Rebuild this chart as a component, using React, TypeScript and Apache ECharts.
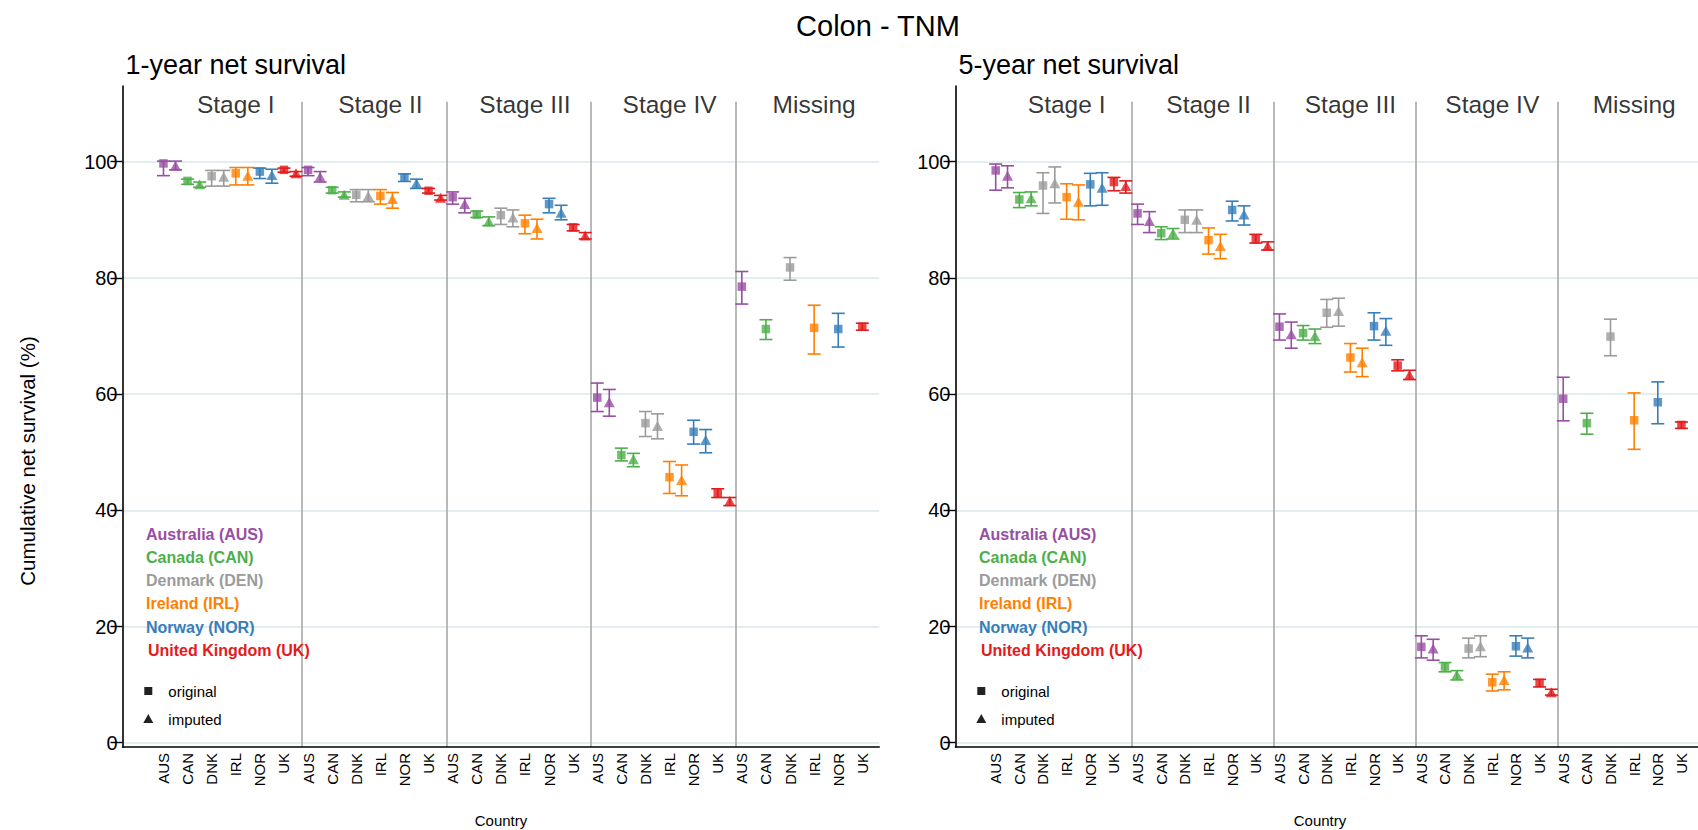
import React, { useEffect, useRef } from 'react';
import * as echarts from 'echarts';

const FONT = '"Liberation Sans", Arial, Helvetica, sans-serif';

const countries = ['AUS', 'CAN', 'DNK', 'IRL', 'NOR', 'UK'];
const countryNames = ['Australia (AUS)', 'Canada (CAN)', 'Denmark (DEN)', 'Ireland (IRL)', 'Norway (NOR)', 'United Kingdom (UK)'];
const countryColors = ['#984ea3', '#4daf4a', '#9b9b9b', '#ff7f00', '#377eb8', '#e41a1c'];
const stages = ['Stage I', 'Stage II', 'Stage III', 'Stage IV', 'Missing'];
const yTicks = [0, 20, 40, 60, 80, 100];
const markerLabels = ['original', 'imputed'];
const panelTitles = ['1-year net survival', '5-year net survival'];
const chartTitle = 'Colon - TNM';
const yAxisTitle = 'Cumulative net survival (%)';
const xAxisTitle = 'Country';

// rows = countries (AUS, CAN, DNK, IRL, NOR, UK); columns = Stage I, II, III, IV, Missing
const oneYearOrigEst = [
  [99.7, 98.6, 93.9, 59.4, 78.5],
  [96.7, 95.1, 90.9, 49.5, 71.2],
  [97.5, 94.3, 90.8, 55.0, 81.8],
  [98.0, 94.1, 89.4, 45.7, 71.4],
  [98.3, 97.3, 92.7, 53.5, 71.2],
  [98.6, 95.0, 88.7, 42.9, 71.6],
];
const oneYearOrigLo = [
  [97.6, 97.6, 92.7, 57.0, 75.5],
  [96.1, 94.6, 90.4, 48.5, 69.4],
  [95.8, 93.1, 89.2, 52.7, 79.6],
  [96.0, 92.7, 87.6, 42.9, 66.9],
  [97.1, 96.6, 91.2, 51.4, 68.1],
  [98.2, 94.6, 88.1, 42.2, 71.0],
];
const oneYearOrigHi = [
  [100.1, 99.0, 94.8, 61.9, 81.1],
  [97.0, 95.6, 91.5, 50.7, 72.8],
  [98.5, 95.2, 92.0, 57.0, 83.5],
  [99.0, 95.2, 90.8, 48.4, 75.3],
  [98.9, 97.9, 93.7, 55.5, 73.9],
  [98.9, 95.4, 89.2, 43.7, 72.2],
];
// imputed: Stage I..IV
const oneYearImpEst = [
  [99.3, 97.4, 92.7, 58.6],
  [96.1, 94.3, 89.7, 48.8],
  [97.4, 94.1, 90.4, 54.5],
  [97.6, 93.6, 88.6, 45.2],
  [97.7, 96.3, 91.2, 52.1],
  [98.0, 93.8, 87.3, 41.6],
];
const oneYearImpLo = [
  [98.6, 96.5, 91.2, 56.2],
  [95.6, 93.9, 89.0, 47.5],
  [95.8, 93.1, 88.8, 52.3],
  [96.0, 92.0, 86.7, 42.5],
  [96.3, 95.4, 90.0, 49.9],
  [97.5, 93.4, 86.7, 40.8],
];
const oneYearImpHi = [
  [100.1, 98.3, 93.7, 60.8],
  [96.5, 94.8, 90.5, 49.8],
  [98.5, 95.2, 91.7, 56.6],
  [99.0, 94.7, 90.1, 47.8],
  [98.7, 97.0, 92.5, 53.9],
  [98.3, 94.2, 87.8, 42.2],
];

const fiveYearOrigEst = [
  [98.5, 91.1, 71.6, 16.5, 59.2],
  [93.5, 87.7, 70.5, 13.1, 55.0],
  [95.9, 90.0, 74.0, 16.2, 69.9],
  [93.9, 86.5, 66.3, 10.4, 55.5],
  [96.1, 91.7, 71.7, 16.6, 58.6],
  [96.5, 86.7, 64.9, 10.3, 54.7],
];
const fiveYearOrigLo = [
  [95.1, 89.2, 69.3, 14.6, 55.4],
  [92.1, 86.6, 69.3, 12.2, 53.1],
  [91.1, 87.8, 71.5, 14.6, 66.6],
  [90.1, 84.1, 63.8, 8.9, 50.5],
  [92.4, 89.8, 69.3, 14.9, 54.9],
  [95.0, 86.0, 64.0, 9.6, 54.1],
];
const fiveYearOrigHi = [
  [99.6, 92.7, 73.8, 18.4, 62.9],
  [94.7, 88.8, 71.8, 13.8, 56.7],
  [98.1, 91.7, 76.3, 18.0, 72.9],
  [96.2, 88.6, 68.7, 11.8, 60.2],
  [98.0, 93.2, 74.0, 18.4, 62.1],
  [97.3, 87.5, 65.9, 10.9, 55.2],
];
const fiveYearImpEst = [
  [97.6, 89.8, 70.3, 16.2],
  [93.7, 87.7, 70.0, 11.7],
  [96.3, 90.0, 74.3, 16.6],
  [93.1, 85.5, 65.5, 10.8],
  [95.5, 90.9, 70.9, 16.4],
  [95.8, 85.5, 63.3, 8.7],
];
const fiveYearImpLo = [
  [95.5, 87.8, 67.9, 14.2],
  [92.4, 86.7, 68.7, 10.8],
  [92.9, 87.8, 71.7, 14.8],
  [90.0, 83.3, 63.0, 9.1],
  [92.5, 89.1, 68.4, 14.6],
  [94.6, 84.8, 62.5, 8.2],
];
const fiveYearImpHi = [
  [99.3, 91.4, 72.4, 17.8],
  [94.8, 88.5, 71.2, 12.4],
  [99.1, 91.7, 76.5, 18.4],
  [96.0, 87.5, 67.9, 12.2],
  [98.1, 92.4, 73.0, 18.0],
  [96.7, 86.2, 64.1, 9.2],
];

const X_MIN = -1.7;
const X_MAX = 29.7;
const Y_MIN = -0.74;
const Y_MAX = 113.03;
const SEP_TOP = 110.3;
const STAGE_LABEL_Y = 109.9;

const GRID_TOP = 86;
const GRID_H = 661;
const GRID_W = 756.7;
const PANEL_LEFT = [122.5, 955.5];
const COUNTRY_TITLE_X = [501, 1320];

const errorBarRender = (color: string) => (params: any, api: any) => {
  const x = api.value(0);
  const lo = api.value(1);
  const hi = api.value(2);
  const pLo = api.coord([x, lo]);
  const pHi = api.coord([x, hi]);
  const hw = 6.5;
  const style = { stroke: color, lineWidth: 1.6, fill: 'none' };
  return {
    type: 'group',
    children: [
      { type: 'line', shape: { x1: pLo[0], y1: pLo[1], x2: pHi[0], y2: pHi[1] }, style },
      { type: 'line', shape: { x1: pLo[0] - hw, y1: pLo[1], x2: pLo[0] + hw, y2: pLo[1] }, style },
      { type: 'line', shape: { x1: pHi[0] - hw, y1: pHi[1], x2: pHi[0] + hw, y2: pHi[1] }, style },
    ],
  };
};

function panelSeries(p: number, oE: number[][], oL: number[][], oH: number[][], iE: number[][], iL: number[][], iH: number[][]) {
  const series: any[] = [];
  const gridLines = yTicks.map((v) => ({
    yAxis: v,
    lineStyle: { color: '#e3eef0', width: 2, type: 'solid' },
  }));
  const separators = stages.slice(1).map((_, i) => [
    { coord: [6 * (i + 1) - 0.25, SEP_TOP], lineStyle: { color: '#a8a8a8', width: 1.6, type: 'solid' } },
    { coord: [6 * (i + 1) - 0.25, Y_MIN] },
  ]);
  series.push({
    type: 'scatter',
    xAxisIndex: p,
    yAxisIndex: p,
    z: 1,
    silent: true,
    symbol: 'circle',
    symbolSize: 1,
    itemStyle: { color: 'rgba(0,0,0,0)' },
    label: {
      show: true,
      position: 'inside',
      formatter: '{b}',
      fontSize: 24.5,
      color: '#000',
      fontFamily: FONT,
    },
    data: stages.map((name, i) => ({ name, value: [6 * i + 3, STAGE_LABEL_Y] })),
    markLine: {
      silent: true,
      symbol: ['none', 'none'],
      label: { show: false },
      z: 0,
      data: [...gridLines, ...separators],
    },
  });
  countries.forEach((c, ci) => {
    const color = countryColors[ci];
    const orig = oE[ci].map((v, si) => [6 * si + ci, oL[ci][si], oH[ci][si], v]);
    const imp = iE[ci].map((v, si) => [6 * si + ci + 0.5, iL[ci][si], iH[ci][si], v]);
    series.push({
      type: 'custom',
      name: c + ' original CI',
      xAxisIndex: p,
      yAxisIndex: p,
      z: 2,
      renderItem: errorBarRender(color),
      data: orig,
    });
    series.push({
      type: 'custom',
      name: c + ' imputed CI',
      xAxisIndex: p,
      yAxisIndex: p,
      z: 2,
      renderItem: errorBarRender(color),
      data: imp,
    });
    series.push({
      type: 'scatter',
      name: c + ' original',
      xAxisIndex: p,
      yAxisIndex: p,
      z: 3,
      symbol: 'rect',
      symbolSize: 8.5,
      itemStyle: { color },
      data: orig.map((d) => [d[0], d[3]]),
    });
    series.push({
      type: 'scatter',
      name: c + ' imputed',
      xAxisIndex: p,
      yAxisIndex: p,
      z: 3,
      symbol: 'triangle',
      symbolSize: [11, 10],
      itemStyle: { color },
      data: imp.map((d) => [d[0], d[3]]),
    });
  });
  return series;
}

function legendGraphics(left: number) {
  const g: any[] = [];
  const x0 = left + 23.5;
  const yStart = 534;
  const step = 23.3;
  countryNames.forEach((n, i) => {
    g.push({
      type: 'text',
      z: 50,
      x: x0 + (i === 5 ? 2 : 0),
      y: yStart + step * i,
      style: {
        text: n,
        fill: countryColors[i],
        fontSize: 16,
        fontWeight: 'bold',
        fontFamily: FONT,
        verticalAlign: 'middle',
        align: 'left',
      },
    });
  });
  const mx = left + 25.8;
  g.push({ type: 'rect', z: 50, shape: { x: mx - 4, y: 691 - 4, width: 8, height: 8 }, style: { fill: '#222' } });
  g.push({
    type: 'polygon',
    z: 50,
    shape: { points: [[mx, 714], [mx - 5, 723], [mx + 5, 723]] },
    style: { fill: '#222' },
  });
  markerLabels.forEach((t, i) => {
    g.push({
      type: 'text',
      z: 50,
      x: left + 45.8,
      y: 691 + 28 * i,
      style: { text: t, fill: '#000', fontSize: 15, fontFamily: FONT, verticalAlign: 'middle', align: 'left' },
    });
  });
  return g;
}

export default function App() {
  const ref = useRef<HTMLDivElement>(null);
  useEffect(() => {
    if (!ref.current) return;
    const chart = echarts.init(ref.current, null, { renderer: 'svg' });
    const xAxes = PANEL_LEFT.map((_, p) => ({
      type: 'value',
      gridIndex: p,
      min: X_MIN,
      max: X_MAX,
      axisLine: { show: true, onZero: false, lineStyle: { color: '#000', width: 1.6 } },
      axisTick: { show: false },
      splitLine: { show: false },
      axisLabel: {
        customValues: countries.flatMap((_, ci) => stages.map((__, si) => 6 * si + ci)).sort((a, b) => a - b),
        rotate: 90,
        margin: 6,
        fontSize: 15,
        color: '#000',
        fontFamily: FONT,
        formatter: (v: number) => countries[Math.round(v) % 6],
      },
    }));
    const yAxes = PANEL_LEFT.map((_, p) => ({
      type: 'value',
      gridIndex: p,
      min: Y_MIN,
      max: Y_MAX,
      axisLine: { show: true, onZero: false, lineStyle: { color: '#000', width: 1.6 } },
      axisTick: { show: true, customValues: yTicks, length: 12, lineStyle: { color: '#000', width: 1.4 } },
      splitLine: { show: false },
      axisLabel: {
        customValues: yTicks,
        margin: 5,
        fontSize: 20,
        color: '#000',
        fontFamily: FONT,
      },
    }));
    const graphics: any[] = [
      {
        type: 'text',
        z: 50,
        x: 878,
        y: 26,
        style: { text: chartTitle, fill: '#000', fontSize: 29, fontFamily: FONT, align: 'center', verticalAlign: 'middle' },
      },
      ...panelTitles.map((t, p) => ({
        type: 'text',
        z: 50,
        x: PANEL_LEFT[p] + 3,
        y: 65,
        style: { text: t, fill: '#000', fontSize: 27, fontFamily: FONT, align: 'left', verticalAlign: 'middle' },
      })),
      {
        type: 'text',
        z: 50,
        x: 27,
        y: 461,
        rotation: Math.PI / 2,
        style: { text: yAxisTitle, fill: '#000', fontSize: 20.5, fontFamily: FONT, align: 'center', verticalAlign: 'middle' },
      },
      ...COUNTRY_TITLE_X.map((x) => ({
        type: 'text',
        z: 50,
        x,
        y: 820,
        style: { text: xAxisTitle, fill: '#000', fontSize: 15, fontFamily: FONT, align: 'center', verticalAlign: 'middle' },
      })),
      ...legendGraphics(PANEL_LEFT[0]),
      ...legendGraphics(PANEL_LEFT[1]),
    ];
    chart.setOption({
      animation: false,
      backgroundColor: '#fff',
      grid: PANEL_LEFT.map((l) => ({ left: l, top: GRID_TOP, width: GRID_W, height: GRID_H, containLabel: false })),
      xAxis: xAxes,
      yAxis: yAxes,
      graphic: graphics,
      series: [
        ...panelSeries(0, oneYearOrigEst, oneYearOrigLo, oneYearOrigHi, oneYearImpEst, oneYearImpLo, oneYearImpHi),
        ...panelSeries(1, fiveYearOrigEst, fiveYearOrigLo, fiveYearOrigHi, fiveYearImpEst, fiveYearImpLo, fiveYearImpHi),
      ],
    });
    return () => chart.dispose();
  }, []);
  return (
    <div
      ref={ref}
      style={{ position: 'absolute', left: 0, top: 0, width: 1698, height: 830, background: '#fff' }}
    />
  );
}
